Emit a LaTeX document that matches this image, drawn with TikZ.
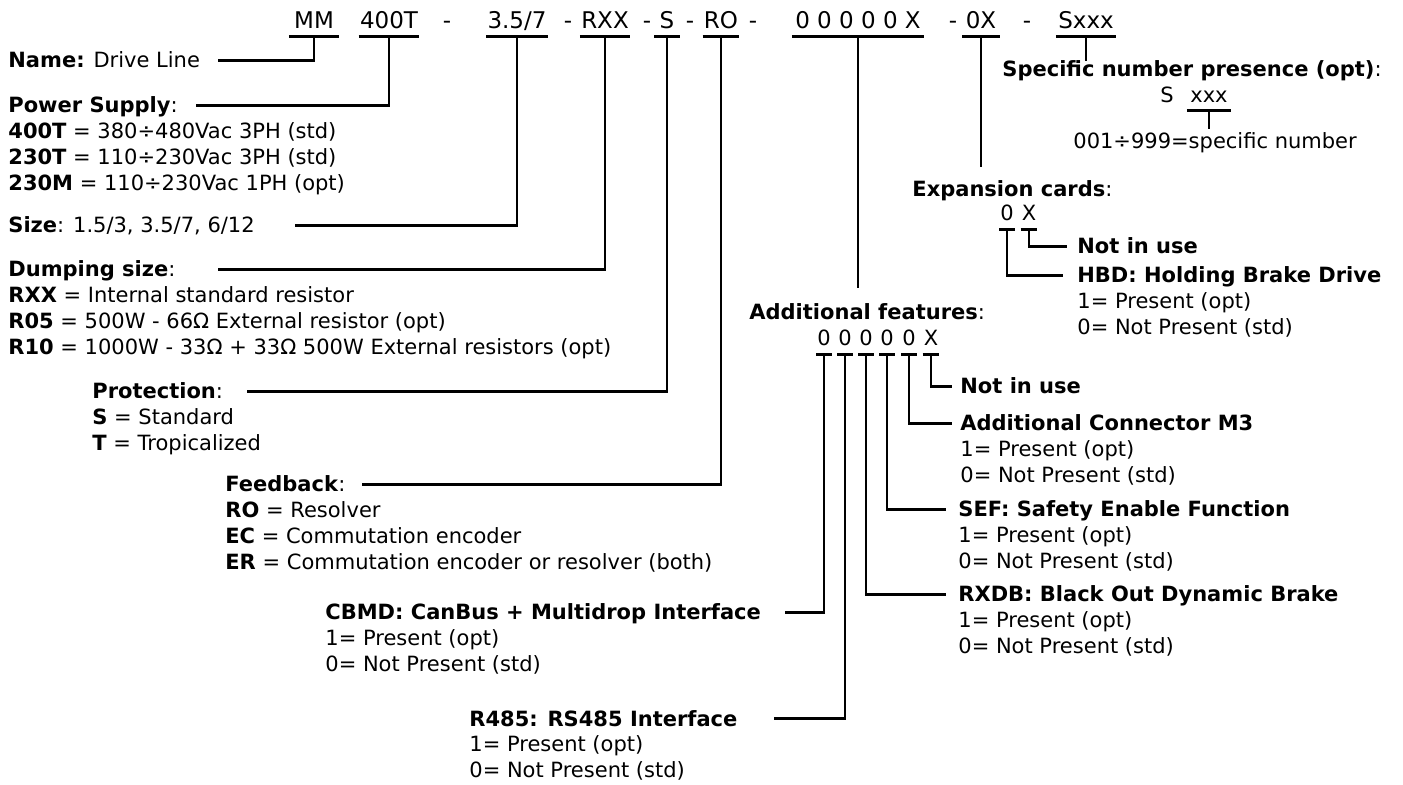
\documentclass[tikz,border=0pt]{standalone}
\usepackage{fontspec}
\setmainfont{DejaVu Sans}
\usetikzlibrary{positioning}

\begin{document}
\begin{tikzpicture}[x=0.5pt,y=-0.5pt,
    ln/.style={line width=1.25pt},
    txt/.style={anchor=base west, inner sep=0pt, text height=10pt, text depth=2.5pt,
      font=\fontsize{10.5pt}{12.5pt}\selectfont},
    sub/.style={txt, anchor=north west},
    code/.style={anchor=base, inner xsep=1.5pt, inner ysep=0pt, text height=10pt,
      text depth=3.5pt, font=\fontsize{10.5pt}{12.5pt}\selectfont},
    top/.style={code, font=\fontsize{11.5pt}{13pt}\selectfont},
    dig/.style={code, inner xsep=0.4pt, text depth=4pt}]
  \useasboundingbox (0,0) rectangle (1403,785);

  % Define the code on top
  \node[top, inner xsep=2.5pt] (c-mm) at (314,29) {MM};
  \node[top, inner xsep=0.5pt] (c-400t) at (389,29) {400T};
  \node[top, inner xsep=0.5pt] (c-size) at (517,29) {3.5/7};
  \node[top, inner xsep=0.5pt] (c-rxx) at (605,29) {RXX};
  \node[top, inner xsep=2.5pt] (c-s) at (667,29) {S};
  \node[top, inner xsep=0.5pt] (c-ro) at (721,29) {RO};
  \node[top] (c-feat) at (858,29) {0 0 0 0 0 X};
  \node[top] (c-ox) at (981,29) {0X};
  \node[top, inner xsep=1pt] (c-sx) at (1086,29) {Sxxx};
  \foreach \x [count=\i] in {447,568,647,690,753,953,1027}
    \node[top] (dash\i) at (\x,29) {-};
  \foreach \c in {c-mm,c-400t,c-size,c-rxx,c-s,c-ro,c-feat,c-ox,c-sx}
    \draw[ln] (\c.south west) -- (\c.south east);

  % Left side
  \node[txt] (name) at (8,68) {\textbf{Name:} Drive Line};

  \node[txt] (psu) at (8,113) {\textbf{Power Supply}:};
  \node[below=0pt of psu.south west, sub] (psu1) {\textbf{400T} = 380÷480Vac 3PH (std)};
  \node[below=0pt of psu1.south west, sub] (psu2) {\textbf{230T} = 110÷230Vac 3PH (std)};
  \node[below=0pt of psu2.south west, sub] (psu3) {\textbf{230M} = 110÷230Vac 1PH (opt)};

  \node[txt] (size) at (8,233) {\textbf{Size}: 1.5/3, 3.5/7, 6/12};

  \node[txt] (dmp) at (8,277) {\textbf{Dumping size}:};
  \node[below=0pt of dmp.south west, sub] (dmp1) {\textbf{RXX} = Internal standard resistor};
  \node[below=0pt of dmp1.south west, sub] (dmp2) {\textbf{R05} = 500W - 66Ω External resistor (opt)};
  \node[below=0pt of dmp2.south west, sub] (dmp3) {\textbf{R10} = 1000W - 33Ω + 33Ω 500W External resistors (opt)};

  \node[txt] (prot) at (92,399) {\textbf{Protection}:};
  \node[below=0pt of prot.south west, sub] (prot1) {\textbf{S} = Standard};
  \node[below=0pt of prot1.south west, sub] (prot2) {\textbf{T} = Tropicalized};

  \node[txt] (fb) at (225,492) {\textbf{Feedback}:};
  \node[below=0pt of fb.south west, sub] (fb1) {\textbf{RO} = Resolver};
  \node[below=0pt of fb1.south west, sub] (fb2) {\textbf{EC} = Commutation encoder};
  \node[below=0pt of fb2.south west, sub] (fb3) {\textbf{ER} = Commutation encoder or resolver (both)};

  \node[txt] (cbmd) at (325,620) {\textbf{CBMD: CanBus + Multidrop Interface}};
  \node[txt] (r485) at (469,726) {\textbf{R485: RS485 Interface}};

  % Right side
  \node[txt] (spec) at (1002,77) {\textbf{Specific number presence (opt)}:};
  \node[code] (sn-s) at (1167,103) {S};
  \node[code] (sn-x) at (1209,103) {xxx};
  \draw[ln] (sn-x.south west) -- (sn-x.south east);
  \node[txt] (num) at (1073,149) {001÷999=specific number};

  \node[txt] (exp) at (912,197) {\textbf{Expansion cards}:};
  \node[dig] (e1) at (1007,221) {0};
  \node[dig] (e2) at (1029,221) {X};
  \draw[ln] (e1.south west) -- (e1.south east);
  \draw[ln] (e2.south west) -- (e2.south east);
  \node[txt] (niu1) at (1077,254) {\textbf{Not in use}};
  \node[txt] (hbd) at (1077,283) {\textbf{HBD: Holding Brake Drive}};

  \node[txt] (af) at (749,320) {\textbf{Additional features}:};
  \foreach \x/\c [count=\i] in {824/0,845/0,866/0,887/0,909/0,931/X} {
    \node[dig] (f\i) at (\x,346) {\c};
    \draw[ln] (f\i.south west) -- (f\i.south east);
  }
  \node[txt] (niu2) at (960,394) {\textbf{Not in use}};
  \node[txt] (m3) at (960,431) {\textbf{Additional Connector M3}};
  \node[txt] (sef) at (958,517) {\textbf{SEF: Safety Enable Function}};
  \node[txt] (rxdb) at (958,602) {\textbf{RXDB: Black Out Dynamic Brake}};

  \foreach \k in {hbd,m3,sef,rxdb,cbmd,r485} {
    \node[below=0pt of \k.south west, sub] (\k1) {1= Present (opt)};
    \node[below=0pt of \k1.south west, sub] (\k0) {0= Not Present (std)};
  }

  % Draw the lines
  \draw[ln] (c-mm.south) |- ([xshift=9pt]name.east);
  \draw[ln] (c-400t.south) |- ([xshift=9pt]psu.east);
  \draw[ln] (c-size.south) |- ([xshift=20pt]size.east);
  \draw[ln] (c-rxx.south) |- ([xshift=21pt]dmp.east);
  \draw[ln] (c-s.south) |- ([xshift=12pt]prot.east);
  \draw[ln] (c-ro.south) |- ([xshift=8pt]fb.east);
  \draw[ln] (c-feat.south) -- ([yshift=6pt]c-feat.south |- af.north);
  \draw[ln] (c-ox.south) -- ([yshift=5pt]c-ox.south |- exp.north);
  \draw[ln] (c-sx.south) -- ([yshift=-2pt]c-sx.south |- spec.north);
  \draw[ln] (sn-x.south) -- (sn-x.south |- num.north);

  \draw[ln] (e2.south) |- ([xshift=-5pt]niu1.west);
  \draw[ln] (e1.south) |- ([xshift=-7pt]hbd.west);

  \draw[ln] (f6.south) |- ([xshift=-4pt]niu2.west);
  \draw[ln] (f5.south) |- ([xshift=-4pt]m3.west);
  \draw[ln] (f4.south) |- ([xshift=-6pt]sef.west);
  \draw[ln] (f3.south) |- ([xshift=-6pt]rxdb.west);
  \draw[ln] (f1.south) |- ([xshift=12pt]cbmd.east);
  \draw[ln] (f2.south) |- ([xshift=18pt]r485.east);
\end{tikzpicture}
\end{document}
